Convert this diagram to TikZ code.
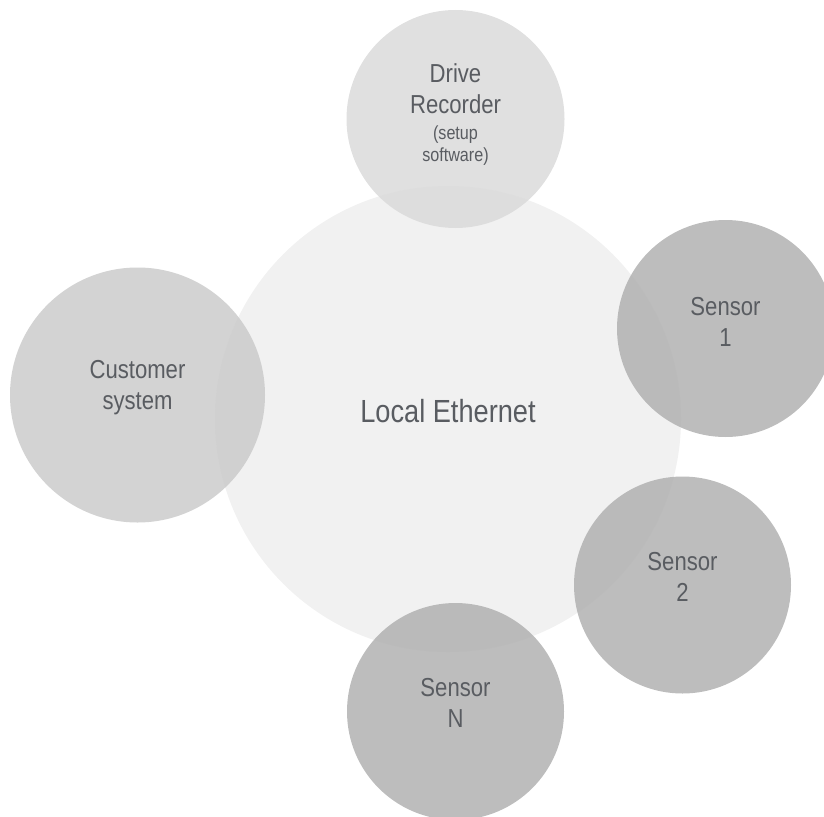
\documentclass[tikz,border=0pt]{standalone}
\usepackage{fontspec}
\setmainfont{Liberation Sans}[FakeStretch=0.85]
\usetikzlibrary{positioning}

\definecolor{hubgray}{HTML}{F1F1F1}
\definecolor{recgray}{RGB}{218,218,218}
\definecolor{custgray}{RGB}{203,203,203}
\definecolor{sensgray}{RGB}{177,177,177}
\definecolor{txtgray}{HTML}{595C61}

\begin{document}
\begin{tikzpicture}[x=1pt,y=-1pt,
    bubble/.style={circle, inner sep=0pt, outer sep=0pt, fill opacity=0.85},
    lbl/.style={align=center, text=txtgray, inner sep=0pt, font=\fontsize{26}{31}\selectfont}]
    \clip (0,0) rectangle (824,816);

    % Network in the middle
    \node[circle, inner sep=0pt, fill=hubgray, minimum size=466pt] (hub) at (448,419) {};

    % Devices around it
    \node[bubble, fill=recgray, minimum size=218pt] (recorder) at (455.5,119) {};
    \node[bubble, fill=custgray, minimum size=255pt] (customer) at (137.5,395) {};
    \node[bubble, fill=sensgray, minimum size=217pt] (sensorA) at (725.5,328.5) {};
    \node[bubble, fill=sensgray, minimum size=217pt] (sensorB) at (682.5,585) {};
    \node[bubble, fill=sensgray, minimum size=217pt] (sensorN) at (455.5,711.5) {};

    % Labels
    \node[lbl, font=\fontsize{32}{38}\selectfont] (hub-t) at ([yshift=7.5pt]hub.center) {Local Ethernet};
    \node[lbl] (recorder-t) at ([yshift=4pt]recorder.center)
        {Drive\\Recorder\\[-5pt]{\fontsize{19}{22}\selectfont (setup}\\[-9pt]{\fontsize{19}{22}\selectfont software)}};
    \node[lbl] (customer-t) at ([yshift=7pt]customer.center) {Customer\\system};
    \node[lbl] (sensorA-t) at ([yshift=6.5pt]sensorA.center) {Sensor\\1};
    \node[lbl] (sensorB-t) at ([yshift=8pt]sensorB.center) {Sensor\\2};
    \node[lbl] (sensorN-t) at ([yshift=8.5pt]sensorN.center) {Sensor\\N};
\end{tikzpicture}
\end{document}
